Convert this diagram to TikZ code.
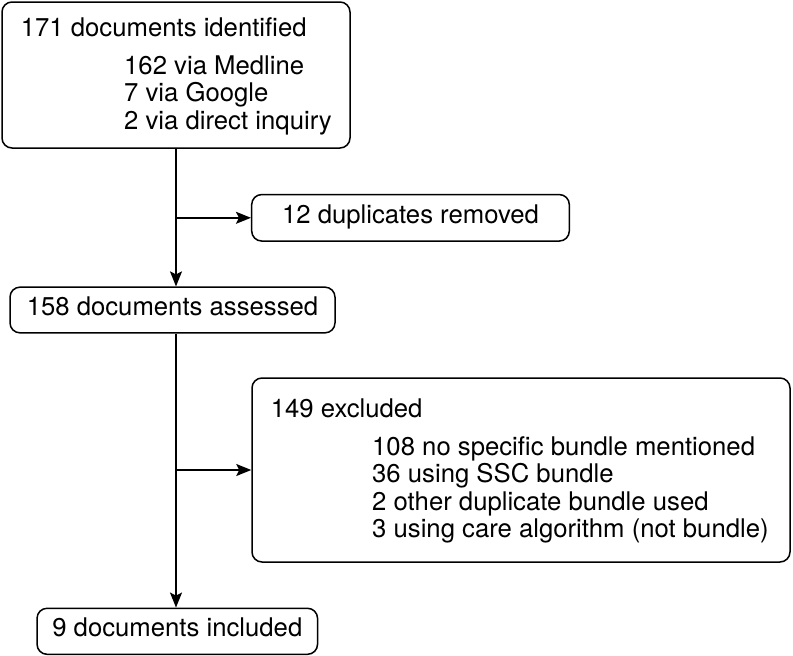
\documentclass[tikz,border=0pt]{standalone}
\usepackage{fontspec}
\setmainfont{TeX Gyre Heros}
\usetikzlibrary{arrows.meta}
\begin{document}
\begin{tikzpicture}[x=1pt,y=-1pt,
  box/.style={draw=black, line width=1.5pt, rounded corners=10pt, inner sep=0pt},
  txt/.style={anchor=base west, inner sep=0pt, font=\fontsize{25.7}{28}\selectfont},
  ctxt/.style={inner sep=0pt, font=\fontsize{25.7}{28}\selectfont},
  arr/.style={line width=1.5pt, -{Stealth[length=15pt,width=12pt,inset=3pt]}},
  ln/.style={line width=1.5pt}]
\useasboundingbox (0,0) rectangle (793,656);
% boxes
\node[box, minimum width=348pt, minimum height=146pt] (b1) at (176,75) {};
\node[box, minimum width=317.6pt, minimum height=46.5pt] (dup) at (410.5,217.8) {};
\node[box, minimum width=325pt, minimum height=45.7pt] (b2) at (172.5,310) {};
\node[box, minimum width=538pt, minimum height=184pt] (exc) at (521,470) {};
\node[box, minimum width=280.5pt, minimum height=46pt] (b3) at (177.3,631.3) {};
% texts
\node[txt] (t1) at (20.7,36.5) {171 documents identified};
\node[txt] (t1a) at (124,74) {162 via Medline};
\node[txt] (t1b) at (124,101.7) {7 via Google};
\node[txt] (t1c) at (124,129.4) {2 via direct inquiry};
\node[ctxt] (tdup) at (dup.center) {\strut 12 duplicates removed};
\node[ctxt] (tb2) at (b2.center) {\strut 158 documents assessed};
\node[ctxt] (tb3) at (b3.center) {\strut 9 documents included};
\node[txt] (te) at (270.7,417) {149 excluded};
\node[txt] (tea) at (372,455) {108 no specific bundle mentioned};
\node[txt] (teb) at (372,482.5) {36 using SSC bundle};
\node[txt] (tec) at (372,510) {2 other duplicate bundle used};
\node[txt] (ted) at (372,537.5) {3 using care algorithm (not bundle)};
% connectors
\coordinate (j1) at (b1.south |- dup.west);
\coordinate (j2) at (b1.south |- exc.west);
\draw[arr] (b1.south) -- (b1.south |- b2.north);
\draw[arr] (j1) -- (dup.west);
\draw[arr] (b2.south -| b1.south) -- (b1.south |- b3.north);
\draw[arr] (j2) -- (exc.west);
\end{tikzpicture}
\end{document}
